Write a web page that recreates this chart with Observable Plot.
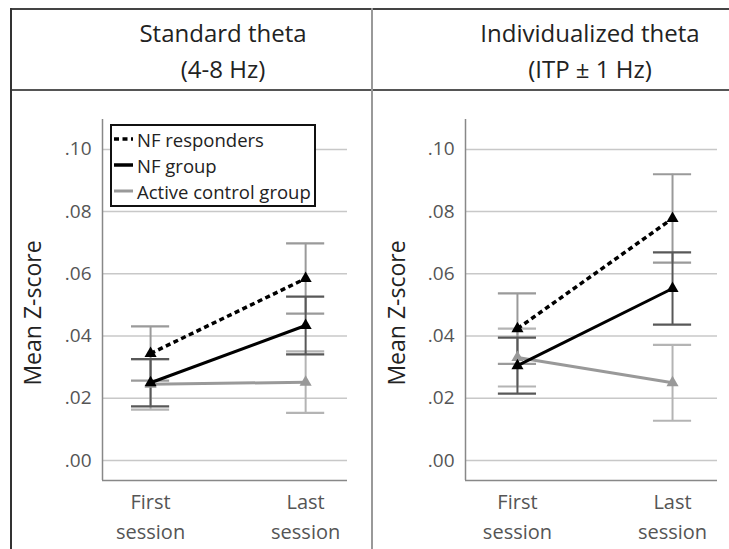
<!DOCTYPE html>
<html>
<head>
<meta charset="utf-8">
<script src="https://cdn.jsdelivr.net/npm/d3@7"></script>
<script src="https://cdn.jsdelivr.net/npm/@observablehq/plot@0.6"></script>
<style>
  html, body { margin: 0; padding: 0; background: #fff; }
  #wrap { position: relative; width: 729px; height: 549px; overflow: hidden; font-family: "Open Sans", sans-serif; background: #fff; }
  .hline { position: absolute; height: 0; }
  .vline { position: absolute; width: 0; }
  .title { position: absolute; width: 300px; text-align: center; font-size: 24px; line-height: 36px; color: #222; }
  .panel { position: absolute; }
  #legend { position: absolute; left: 110px; top: 124px; width: 202px; height: 79px; border: 2px solid #111; background: #fff; }
  .lrow { position: absolute; left: 0; height: 26px; display: flex; align-items: center; font-size: 18.5px; color: #222; white-space: nowrap; }
  .lrow svg { margin-left: 1px; margin-right: 4px; }
</style>
</head>
<body>
<div id="wrap">
  <div class="hline" style="left:11px;top:8px;width:718px;border-top:2px solid #444"></div>
  <div class="hline" style="left:11px;top:89px;width:718px;border-top:2px solid #555"></div>
  <div class="vline" style="left:10px;top:8px;height:541px;border-left:2px solid #333"></div>
  <div class="vline" style="left:371px;top:8px;height:541px;border-left:2px solid #999"></div>
  <div class="title" id="t1" style="left:73px;top:15px"></div>
  <div class="title" id="t2" style="left:440px;top:15px"></div>
  <div class="panel" id="p1" style="left:12px;top:91px"></div>
  <div class="panel" id="p2" style="left:373px;top:91px"></div>
  <div id="legend"></div>
</div>
<script>
// ---- data ----
const titles = ["Standard theta", "Individualized theta"];
const subtitles = ["(4-8 Hz)", "(ITP ± 1 Hz)"];
const sessions = ["First\nsession", "Last\nsession"];
const groups = ["NF responders", "NF group", "Active control group"];
const yTicks = [0, 0.02, 0.04, 0.06, 0.08, 0.10];
const yLabel = "Mean Z-score";

// Standard theta (4-8 Hz): means and error half-widths, [first, last]
const stdResponders = [0.0344, 0.0585];
const stdRespondersErr = [0.0087, 0.0113];
const stdNF = [0.0250, 0.0434];
const stdNFErr = [0.0076, 0.0093];
const stdActive = [0.0245, 0.0252];
const stdActiveErr = [0.0081, 0.0099];

// Individualized theta (ITP ± 1 Hz)
const indResponders = [0.0424, 0.0778];
const indRespondersErr = [0.0113, 0.0142];
const indNF = [0.0305, 0.0553];
const indNFErr = [0.0090, 0.0116];
const indActive = [0.0331, 0.0250];
const indActiveErr = [0.0093, 0.0122];

// ---- styles ----
const lineColor = {"NF responders": "#000", "NF group": "#000", "Active control group": "#999"};
const lineDash = {"NF responders": "5,3.5", "NF group": null, "Active control group": null};
const lineWidth = {"NF responders": 3.5, "NF group": 3, "Active control group": 3};
const errColor = {"NF responders": "#9a9a9a", "NF group": "#585858", "Active control group": "#b4b4b4"};
const errOrder = ["Active control group", "NF responders", "NF group"];

function rowsFor(means, errs) {
  return groups.flatMap((g, gi) => means[gi].map((m, si) => ({
    group: g, s: si, mean: m, lo: m - errs[gi][si], hi: m + errs[gi][si]
  })));
}
const panelRows = [
  rowsFor([stdResponders, stdNF, stdActive], [stdRespondersErr, stdNFErr, stdActiveErr]),
  rowsFor([indResponders, indNF, indActive], [indRespondersErr, indNFErr, indActiveErr])
];

const fmt = v => d3.format(".2f")(v).replace(/^0/, "");
const yDomain = [-0.0064, 0.1096];
const capHalf = 0.123;

function makePanel(rows, opts) {
  const marks = [
    Plot.gridY(yTicks, {stroke: "#c8c8c8", strokeOpacity: 1, strokeWidth: 1.5}),
    Plot.axisY(yTicks, {tickFormat: fmt, tickSize: 0, tickPadding: 11, fontSize: 19, fill: "#555", label: null}),
    Plot.axisX([0, 1], {tickFormat: i => sessions[i], tickSize: 0, tickPadding: 7, fontSize: 20, fill: "#555", label: null, lineHeight: 1.5}),
    Plot.ruleX([opts.xDomain[0]], {stroke: "#888", strokeWidth: 1.5}),
    Plot.ruleY([yDomain[0]], {stroke: "#888", strokeWidth: 1.5})
  ];
  for (const g of errOrder) {
    const d = rows.filter(r => r.group === g);
    marks.push(Plot.ruleX(d, {x: "s", y1: "lo", y2: "hi", stroke: errColor[g], strokeWidth: 2}));
    const caps = d.flatMap(r => [{s: r.s, y: r.lo}, {s: r.s, y: r.hi}]);
    marks.push(Plot.ruleY(caps, {y: "y", x1: r => r.s - capHalf, x2: r => r.s + capHalf, stroke: errColor[g], strokeWidth: 2.2}));
  }
  for (const g of ["Active control group", "NF group", "NF responders"]) {
    const d = rows.filter(r => r.group === g);
    marks.push(Plot.line(d, {x: "s", y: "mean", stroke: lineColor[g], strokeWidth: lineWidth[g], strokeDasharray: lineDash[g], strokeLinecap: "butt"}));
    marks.push(Plot.dot(d, {x: "s", y: "mean", symbol: "triangle", r: 4.5, fill: g === "Active control group" ? "#999" : "#000", stroke: "none"}));
  }
  marks.push(Plot.text([yLabel], {frameAnchor: "left", rotate: -90, dx: opts.labelDx, dy: 13, fontSize: 23, fill: "#222", textAnchor: "middle"}));
  return Plot.plot({
    width: opts.width, height: 458,
    marginLeft: opts.marginLeft, marginRight: opts.marginRight, marginTop: 28, marginBottom: 69,
    x: {domain: opts.xDomain, axis: null},
    y: {domain: yDomain, axis: null},
    style: {fontFamily: "Open Sans, sans-serif", background: "transparent", overflow: "visible"},
    marks
  });
}

document.getElementById("p1").append(makePanel(panelRows[0], {width: 360, marginLeft: 90, marginRight: 25, xDomain: [-0.31, 1.27], labelDx: -69}));
document.getElementById("p2").append(makePanel(panelRows[1], {width: 356, marginLeft: 92, marginRight: 12, xDomain: [-0.335, 1.29], labelDx: -68}));

["t1", "t2"].forEach((id, i) => {
  const el = document.getElementById(id);
  el.innerHTML = "";
  const a = document.createElement("div"); a.textContent = titles[i];
  const b = document.createElement("div"); b.textContent = subtitles[i];
  el.append(a, b);
});

// legend
const legend = document.getElementById("legend");
groups.forEach((g, i) => {
  const row = document.createElement("div");
  row.className = "lrow";
  row.style.top = (i * 26) + "px";
  const ns = "http://www.w3.org/2000/svg";
  const svg = document.createElementNS(ns, "svg");
  svg.setAttribute("width", 20); svg.setAttribute("height", 10);
  const ln = document.createElementNS(ns, "line");
  ln.setAttribute("x1", 1); ln.setAttribute("x2", 20); ln.setAttribute("y1", 5); ln.setAttribute("y2", 5);
  ln.setAttribute("stroke", lineColor[g]);
  ln.setAttribute("stroke-width", g === "Active control group" ? 3 : 3.5);
  if (lineDash[g]) ln.setAttribute("stroke-dasharray", "5,3.5");
  svg.append(ln);
  const t = document.createElement("span"); t.textContent = g;
  row.append(svg, t);
  legend.append(row);
});
</script>
</body>
</html>
